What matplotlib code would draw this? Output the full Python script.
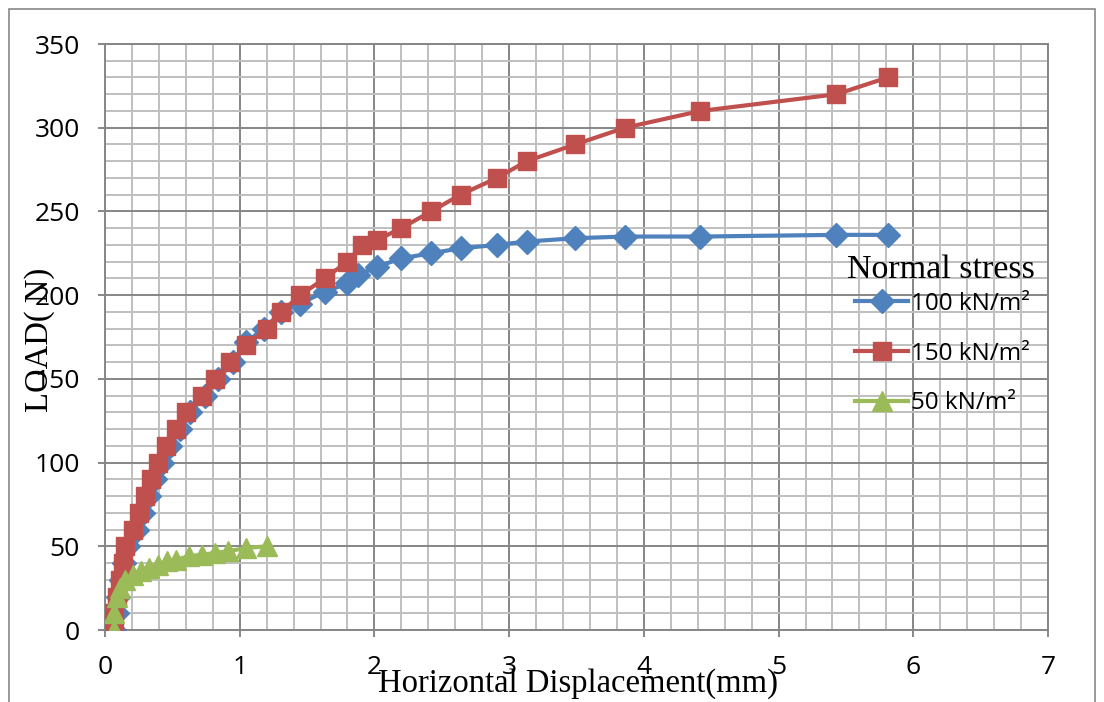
import matplotlib
matplotlib.use("Agg")
import matplotlib.pyplot as plt
from matplotlib.patches import Rectangle
from matplotlib.ticker import MultipleLocator

# Data
x_100 = [0.07, 0.09, 0.10, 0.12, 0.14, 0.17, 0.24, 0.28, 0.33, 0.37, 0.42, 0.48, 0.56, 0.63,
         0.74, 0.84, 0.95, 1.05, 1.18, 1.31, 1.45, 1.63, 1.80, 1.88, 2.02, 2.20, 2.42, 2.64,
         2.91, 3.13, 3.49, 3.86, 4.42, 5.43, 5.81]
y_100 = [0, 10, 20, 30, 40, 50, 60, 70, 80, 90, 100, 110, 120, 130,
         140, 150, 160, 172, 180, 190, 195, 202, 207, 212, 217, 222, 225, 228,
         230, 232, 234, 235, 235, 236, 236]

x_150 = [0.07, 0.07, 0.09, 0.11, 0.13, 0.15, 0.21, 0.25, 0.30, 0.34, 0.39, 0.45, 0.53, 0.60,
         0.72, 0.82, 0.93, 1.05, 1.20, 1.31, 1.45, 1.63, 1.80, 1.91, 2.02, 2.20, 2.42, 2.64,
         2.91, 3.13, 3.49, 3.86, 4.42, 5.43, 5.81]
y_150 = [0, 10, 20, 30, 40, 50, 60, 70, 80, 90, 100, 110, 120, 130,
         140, 150, 160, 170, 180, 190, 200, 210, 220, 230, 233, 240, 250, 260,
         270, 280, 290, 300, 310, 320, 330]

x_50 = [0.07, 0.07, 0.09, 0.11, 0.15, 0.21, 0.27, 0.33, 0.39, 0.46, 0.53, 0.62, 0.72, 0.82,
        0.91, 1.05, 1.20]
y_50 = [0, 10, 20, 25, 30, 33, 35, 37, 39, 41, 42, 44, 45, 46, 47, 49, 50]

labels = ['100 kN/m²', '150 kN/m²', '50 kN/m²']

fig = plt.figure(figsize=(11.04, 7.02), dpi=100)
ax = fig.add_axes([105/1104, 1 - 630/702, (1048 - 105)/1104, (630 - 44)/702])

major_c = '#868686'
minor_c = '#BFBFBF'

ax.plot(x_100, y_100, color='#4F81BD', lw=3, marker='D', ms=12.5, label=labels[0], zorder=3)
ax.plot(x_150, y_150, color='#C0504D', lw=3, marker='s', ms=13.5, label=labels[1], zorder=4)
ax.plot(x_50, y_50, color='#9BBB59', lw=3, marker='^', ms=14.5, label=labels[2], zorder=5)

ax.set_xlim(0, 7)
ax.set_ylim(0, 350)
ax.xaxis.set_major_locator(MultipleLocator(1))
ax.xaxis.set_minor_locator(MultipleLocator(0.2))
ax.yaxis.set_major_locator(MultipleLocator(50))
ax.yaxis.set_minor_locator(MultipleLocator(10))

ax.grid(which='major', color=major_c, lw=1.4, zorder=0)
ax.grid(which='minor', color=minor_c, lw=1.4, zorder=0)
ax.set_axisbelow(True)
for s in ax.spines.values():
    s.set_color(major_c)
    s.set_linewidth(1.4)

ax.tick_params(which='major', direction='out', length=5, width=1.4, color=major_c,
               labelsize=19, pad=13)
ax.tick_params(which='minor', length=0)
for t in ax.get_xticklabels() + ax.get_yticklabels():
    t.set_fontfamily('Open Sans')

# Axis titles (overlap the tick labels as in the original)
fig.text(40/1104, 1 - 340/702, 'LOAD( N)', rotation=90, ha='center', va='center',
         fontsize=23.5, family='Liberation Serif')
fig.text(578/1104, 1 - 684/702, 'Horizontal Displacement(mm)', ha='center', va='center',
         fontsize=23.5, family='Liberation Serif')

# Legend with its title drawn separately
fig.text(847/1104, 1 - 270/702, 'Normal stress', ha='left', va='center',
         fontsize=24.5, family='Liberation Serif')
leg = ax.legend(loc='upper left', bbox_to_anchor=(855/1104, 1 - 292/702),
                bbox_transform=fig.transFigure, frameon=False,
                prop={'family': 'Open Sans', 'size': 17.5},
                handlelength=2.2, handletextpad=0.1, labelspacing=1.05,
                borderpad=0, borderaxespad=0)

# Outer chart border
fig.patches.append(Rectangle((9/1104, -0.01), (1095 - 9)/1104, 1 - 9/702 + 0.01,
                             transform=fig.transFigure, fill=False,
                             edgecolor='#888888', lw=1.2))

fig.savefig('out.png', dpi=100)
